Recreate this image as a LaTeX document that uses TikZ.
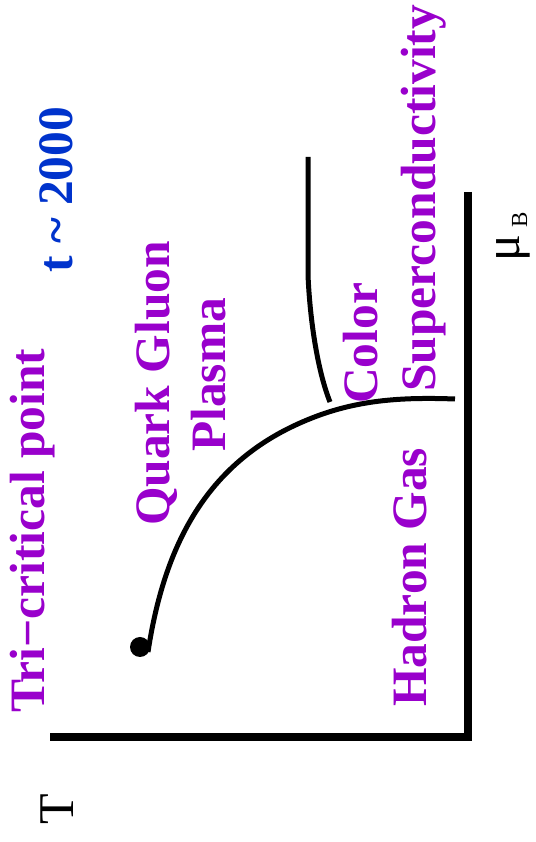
\documentclass[tikz,border=0pt]{standalone}
\usepackage{fontspec}
\setmainfont{Liberation Serif}
\definecolor{lblpurple}{RGB}{153,0,204}
\definecolor{lblblue}{RGB}{0,51,204}
\tikzset{
  lbl/.style={anchor=base west, rotate=90, inner sep=0pt, font=\fontsize{49.5}{58}\selectfont\bfseries, text=lblpurple},
  axlbl/.style={anchor=base west, rotate=90, inner sep=0pt, font=\fontsize{50}{58}\selectfont, text=black},
  axis/.style={line width=8pt, black},
  phase/.style={line width=5pt, black, line join=round}
}
\begin{document}
\begin{tikzpicture}[x=1pt,y=1pt]
\useasboundingbox (0,0) rectangle (535,842);
% axes
\coordinate (ytop) at (468,650);
\coordinate (corner) at (468,101);
\coordinate (xleft) at (50,104.5);
\coordinate (xright) at (468,104.5);
\draw[axis] (ytop) -- (corner);
\draw[axis] (xleft) -- (xright);
% tri-critical point
\node[circle, fill=black, minimum size=20pt, inner sep=0pt] (tcp) at (140,195) {};
% main phase boundary
\coordinate (m0) at (148,190);
\coordinate (m1) at (307,422);
\coordinate (m2) at (455,443);
\draw[phase] (m0) .. controls (165,302) and (210,382) .. (m1)
                  .. controls (355,442) and (400,445) .. (m2);
% colour superconductivity boundary
\coordinate (csTop) at (308,685);
\coordinate (csBend) at (308,567);
\coordinate (csEnd) at (330,440);
\draw[phase] (csTop) -- (csBend) .. controls (310,520) and (318,470) .. (csEnd);
% labels
\node[lbl] (tri) at (44,129) {Tri−critical point};
\node[lbl, text=lblblue] (time) at (72,569) {t \char`~\ 2000};
\node[lbl] (qgp1) at (169,316) {Quark Gluon};
\node[lbl] (qgp2) at (225,390) {Plasma};
\node[lbl] (col1) at (377,438) {Color};
\node[lbl] (col2) at (435,450) {Superconductivity};
\node[lbl] (had) at (426,135) {Hadron Gas};
\node[axlbl] (T) at (73,17) {T};
\node[axlbl] (mu) at (519,580) {μ};
\node[axlbl, font=\fontsize{23}{27}\selectfont] (muB) at (527,614) {B};
\end{tikzpicture}
\end{document}
